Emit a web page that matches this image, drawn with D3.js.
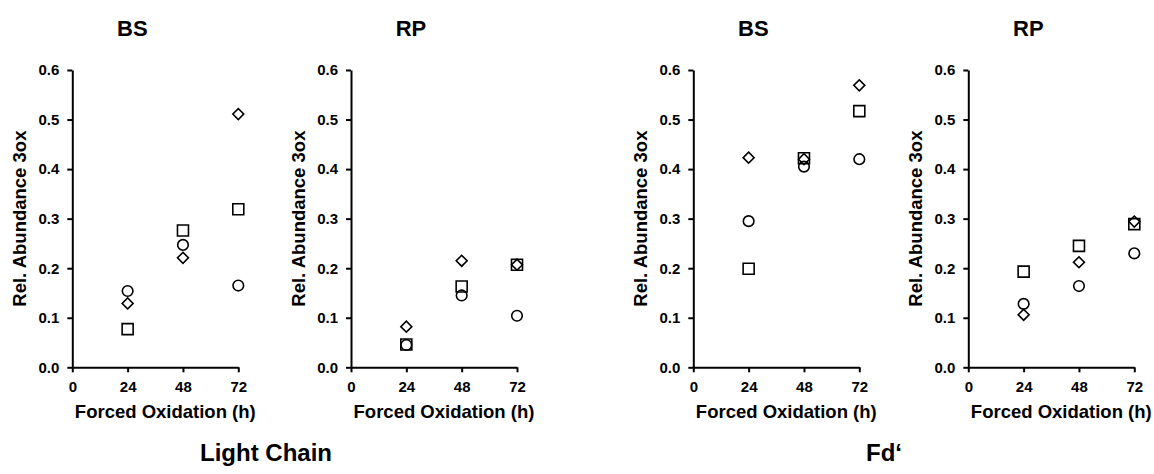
<!DOCTYPE html>
<html lang="en">
<head>
    <meta charset="utf-8">
    <script src="https://cdn.jsdelivr.net/npm/d3@7"></script>
    <style>
        body {
            margin: 0;
            background: #fff;
        }

        svg text {
            font-family: "Liberation Sans", Arial, sans-serif;
            font-weight: bold;
            fill: #000;
        }

        .axis path,
        .axis line {
            stroke: #000;
            stroke-width: 2;
        }

        .axis text {
            font-size: 15px;
        }

        .title {
            font-size: 22px;
        }

        .axis-title {
            font-size: 18.5px;
        }

        .group-title {
            font-size: 24px;
        }

        .marker {
            fill: none;
            stroke: #000;
            stroke-width: 1.6;
        }
    </style>
</head>
<body>
<div id="chart"></div>

<script>

    // forced oxidation time points (h)
    var hours = [24, 48, 72];
    var xTicks = [0, 24, 48, 72];
    var yTicks = [0, 0.1, 0.2, 0.3, 0.4, 0.5, 0.6];

    var panelTitles = ["BS", "RP", "BS", "RP"];
    var groupTitles = ["Light Chain", "Fd\u2018"];

    // Light Chain - BS
    var lcBsCircle = [0.154, 0.247, 0.165];
    var lcBsDiamond = [0.129, 0.221, 0.511];
    var lcBsSquare = [0.077, 0.276, 0.319];

    // Light Chain - RP
    var lcRpCircle = [0.045, 0.145, 0.104];
    var lcRpDiamond = [0.082, 0.215, 0.207];
    var lcRpSquare = [0.046, 0.163, 0.207];

    // Fd' - BS
    var fdBsCircle = [0.295, 0.405, 0.420];
    var fdBsDiamond = [0.423, 0.420, 0.569];
    var fdBsSquare = [0.199, 0.422, 0.517];

    // Fd' - RP
    var fdRpCircle = [0.128, 0.164, 0.230];
    var fdRpDiamond = [0.106, 0.212, 0.294];
    var fdRpSquare = [0.193, 0.245, 0.289];

    var width = 1154, height = 474;

    var panels = [
        {left: 72.3, title: panelTitles[0], circle: lcBsCircle, diamond: lcBsDiamond, square: lcBsSquare},
        {left: 351, title: panelTitles[1], circle: lcRpCircle, diamond: lcRpDiamond, square: lcRpSquare},
        {left: 693.3, title: panelTitles[2], circle: fdBsCircle, diamond: fdBsDiamond, square: fdBsSquare},
        {left: 968.3, title: panelTitles[3], circle: fdRpCircle, diamond: fdRpDiamond, square: fdRpSquare}
    ];

    var plotW = 166;
    var plotTop = 70, plotBottom = 367.3;

    var svg = d3.select("#chart").append("svg")
        .attr("width", width)
        .attr("height", height);

    var x = d3.scaleLinear().domain([0, 72]).range([0, plotW]);
    var y = d3.scaleLinear().domain([0, 0.6]).range([plotBottom - plotTop, 0]);

    var circleSym = d3.symbol(d3.symbolCircle, 88);
    var squareSym = d3.symbol(d3.symbolSquare, 121);
    var diamondSym = d3.symbol(d3.symbolSquare, 60);

    panels.forEach(function (p) {
        var g = svg.append("g")
            .attr("transform", "translate(" + p.left + "," + plotTop + ")");

        // y axis
        g.append("g")
            .attr("class", "axis y")
            .call(d3.axisLeft(y)
                .tickValues(yTicks)
                .tickFormat(d3.format(".1f"))
                .tickSize(5)
                .tickSizeOuter(0)
                .tickPadding(8));

        // x axis
        g.append("g")
            .attr("class", "axis x")
            .attr("transform", "translate(0," + (plotBottom - plotTop) + ")")
            .call(d3.axisBottom(x)
                .tickValues(xTicks)
                .tickFormat(d3.format("d"))
                .tickSize(5)
                .tickSizeOuter(0)
                .tickPadding(9));

        // panel title
        g.append("text")
            .attr("class", "title")
            .attr("text-anchor", "middle")
            .attr("x", plotW / 2 - 23)
            .attr("y", 36 - plotTop)
            .text(p.title);

        // axis titles
        g.append("text")
            .attr("class", "axis-title")
            .attr("text-anchor", "middle")
            .attr("transform", "translate(-46," + (plotBottom - plotTop) / 2 + ") rotate(-90)")
            .text("Rel. Abundance 3ox");

        g.append("text")
            .attr("class", "axis-title")
            .attr("text-anchor", "middle")
            .attr("x", plotW / 2 + 10)
            .attr("y", 418 - plotTop)
            .text("Forced Oxidation (h)");

        // markers
        g.selectAll(".sq")
            .data(p.square)
            .enter().append("path")
            .attr("class", "marker sq")
            .attr("d", squareSym)
            .attr("transform", function (d, i) {
                return "translate(" + x(hours[i]) + "," + y(d) + ")";
            });

        g.selectAll(".dm")
            .data(p.diamond)
            .enter().append("path")
            .attr("class", "marker dm")
            .attr("d", diamondSym)
            .attr("transform", function (d, i) {
                return "translate(" + x(hours[i]) + "," + y(d) + ") rotate(45)";
            });

        g.selectAll(".ci")
            .data(p.circle)
            .enter().append("path")
            .attr("class", "marker ci")
            .attr("d", circleSym)
            .attr("transform", function (d, i) {
                return "translate(" + x(hours[i]) + "," + y(d) + ")";
            });
    });

    // group titles under each pair
    svg.selectAll(".group-title")
        .data(groupTitles)
        .enter().append("text")
        .attr("class", "group-title")
        .attr("text-anchor", "middle")
        .attr("x", function (d, i) { return [266, 884][i]; })
        .attr("y", 461)
        .text(function (d) { return d; });

</script>
</body>
</html>
